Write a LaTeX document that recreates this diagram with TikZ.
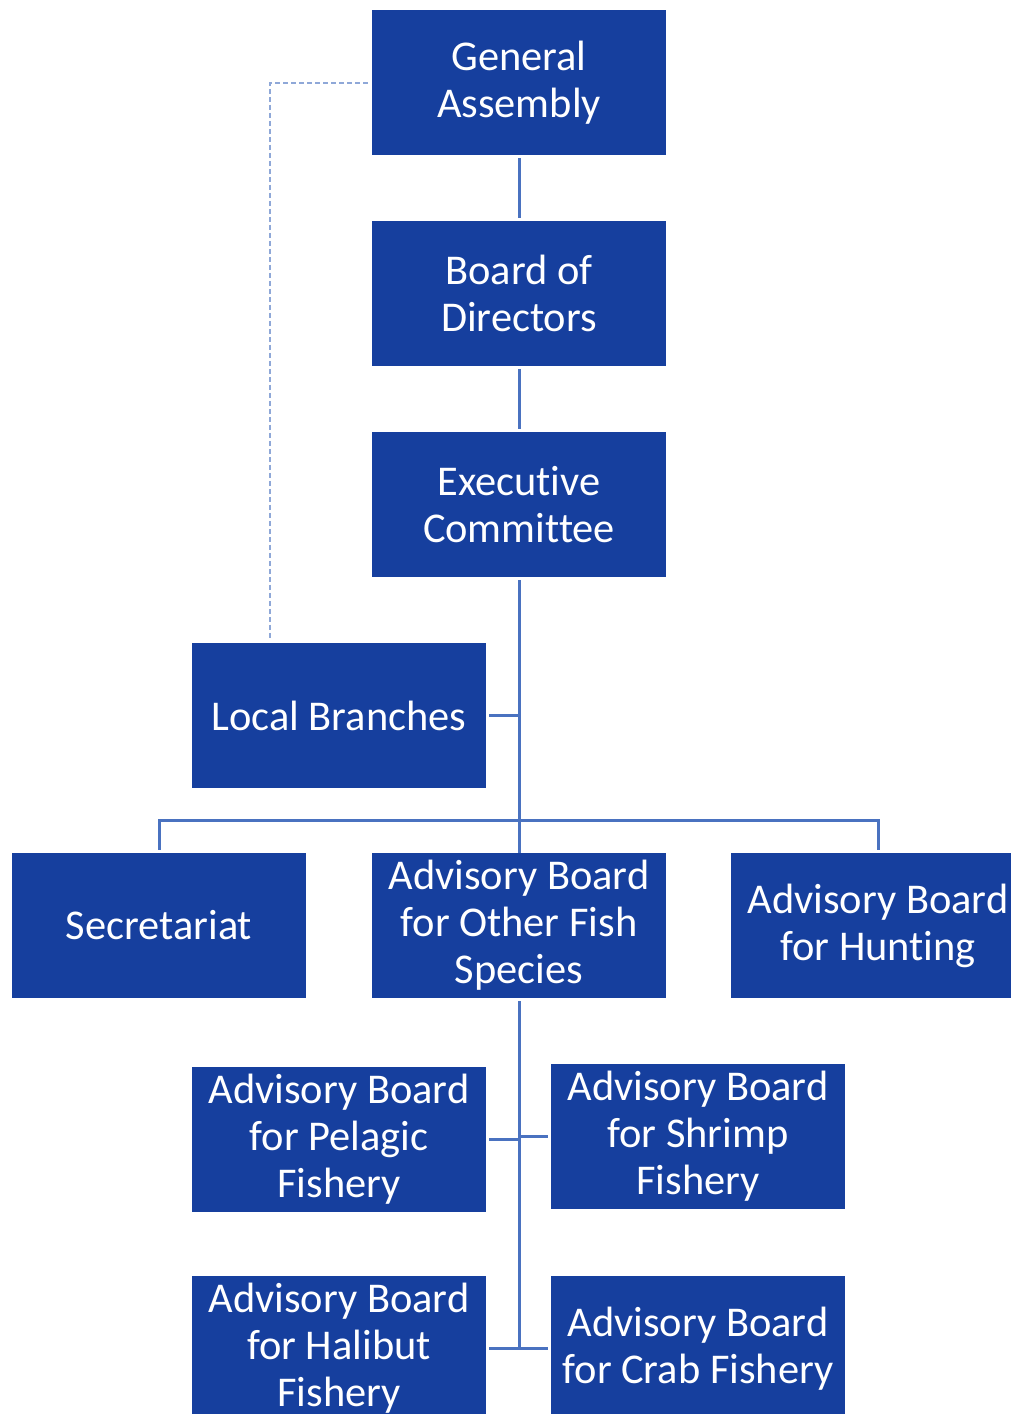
\documentclass[tikz,border=0pt]{standalone}
\usepackage{fontspec}
\setmainfont{Carlito}[Ligatures=NoCommon]
\definecolor{boxblue}{HTML}{163F9E}
\definecolor{lineblue}{HTML}{4A72C0}
\definecolor{dashblue}{HTML}{8FA8D8}
\begin{document}
\begin{tikzpicture}[x=0.5pt,y=-0.5pt,
 orgbox/.style={fill=boxblue, minimum width=147pt, minimum height=72.5pt, inner sep=0pt, text=white, align=center, font=\fontsize{21.2}{23.5}\selectfont},
 link/.style={draw=lineblue, line width=1.5pt},
 dashlink/.style={draw=dashblue, line width=1pt, dash pattern=on 2.5pt off 1.5pt}]
\useasboundingbox (0,0) rectangle (1011,1414);
\node[orgbox] (ga) at (519,82.5) {General\\Assembly};
\node[orgbox] (bod) at (519,293.5) {Board of\\Directors};
\node[orgbox] (ec) at (519,504.5) {Executive\\Committee};
\node[orgbox] (lb) at (339,715.5) {Local Branches};
\node[orgbox] (sec) at (159,925.5) {Secretariat};
\node[orgbox] (of) at (519,925.5) {Advisory Board\\for Other Fish\\Species};
\node[orgbox] (hu) at (878,925.5) {Advisory Board\\for Hunting};
\node[orgbox] (pel) at (339,1139.5) {Advisory Board\\for Pelagic\\Fishery};
\node[orgbox] (shr) at (698,1136.5) {Advisory Board\\for Shrimp\\Fishery};
\node[orgbox] (hal) at (339,1348.5) {Advisory Board\\for Halibut\\Fishery};
\node[orgbox] (crab) at (698,1348.5) {Advisory Board\\for Crab Fishery};
\coordinate (barY) at (0,820);
\coordinate (dashX) at (270,0);
\draw[link, shorten <=1.5pt, shorten >=1.5pt] (ga.south) -- (bod.north);
\draw[link, shorten <=1.5pt, shorten >=1.5pt] (bod.south) -- (ec.north);
\draw[link, shorten <=1.5pt] (ec.south) -- (of.north);
\draw[link, shorten <=1.5pt] (lb.east) -- (lb.east -| ec.south);
\draw[link, shorten <=1.5pt, shorten >=1.5pt] (sec.north) |- (hu.north |- barY) -- (hu.north);
\draw[link, shorten <=1.5pt] (of.south) -- (of.south |- hal.east);
\draw[link, shorten <=1.5pt] (pel.east) -- (pel.east -| of.south);
\draw[link, shorten <=1.5pt] (shr.west) -- (shr.west -| of.south);
\draw[link, shorten <=1.5pt, shorten >=1.5pt] (hal.east) -- (crab.west);
\draw[dashlink, shorten <=2pt, shorten >=1.5pt] (ga.west) -| (lb.north -| dashX);
\end{tikzpicture}
\end{document}
